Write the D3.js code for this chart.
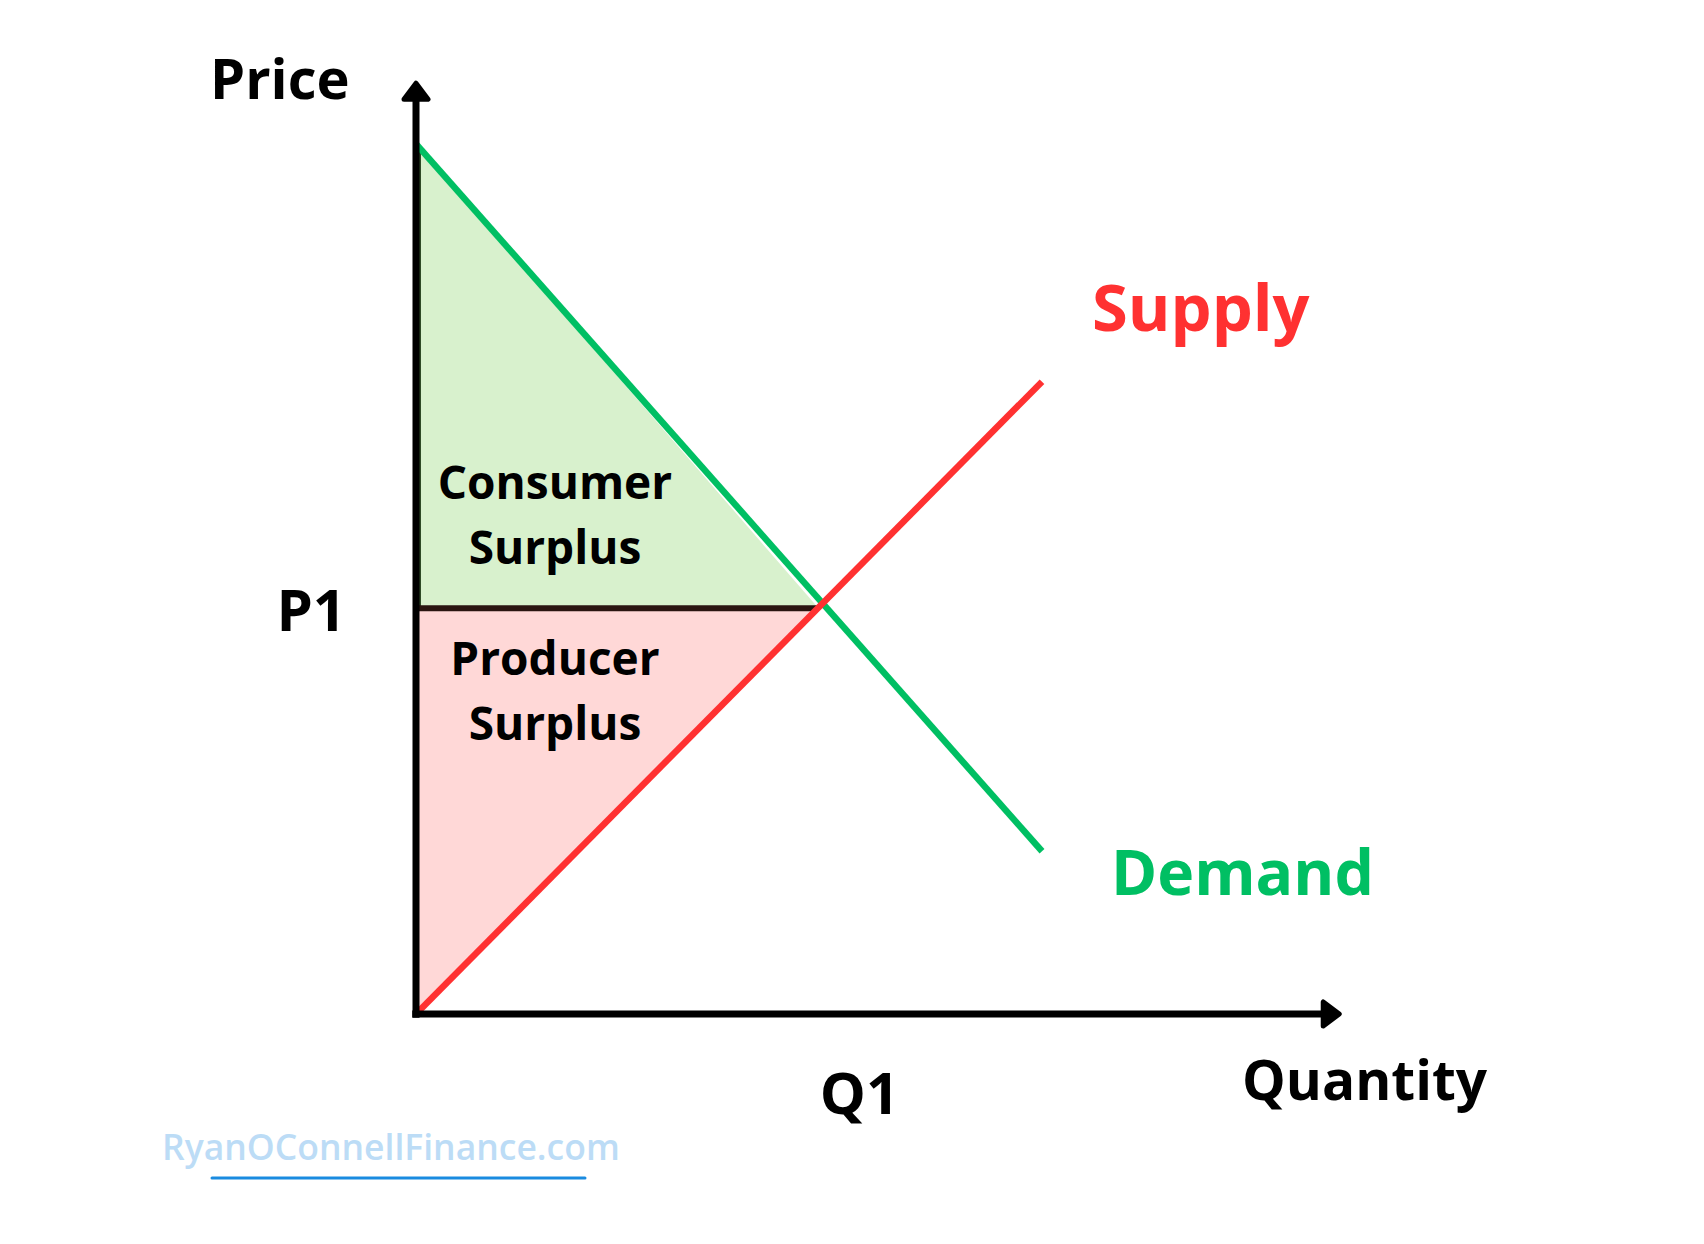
<!DOCTYPE html>
<html>
<head>
<meta charset="utf-8">
<script src="https://cdn.jsdelivr.net/npm/d3@7"></script>
<style>
    body { margin: 0; background: #fff; }
    text { font-family: "Open Sans", "Noto Sans", sans-serif; font-weight: 700; }
</style>
</head>
<body>
<div id="chart"></div>
<script>
// values (same units on both axes)
const supplyQty = [0, 10];
const supplyPrice = [0, 10.1];
const demandQty = [0, 10];
const demandPrice = [13.9, 2.6];
const equilibrium = { q: 6.43, p: 6.48 };
const axisMax = { q: 14.78, p: 14.9 };

const width = 1704,
    height = 1244;

const svg = d3.select("#chart")
    .append("svg")
    .attr("width", width)
    .attr("height", height);

const unit = 62.6;
const x = d3.scaleLinear()
    .domain([0, 1])
    .range([416, 416 + unit]);

const y = d3.scaleLinear()
    .domain([0, 1])
    .range([1014, 1014 - unit]);

const supply = supplyQty.map((q, i) => [q, supplyPrice[i]]);
const demand = demandQty.map((q, i) => [q, demandPrice[i]]);

const line = d3.line()
    .x(d => x(d[0]))
    .y(d => y(d[1]));

// Consumer surplus area
svg.append("path")
    .datum([[0, equilibrium.p], [0, demandPrice[0]], [equilibrium.q, equilibrium.p]])
    .attr("d", d => line(d) + "Z")
    .attr("fill", "#d8f1cd");

// Producer surplus area
svg.append("path")
    .datum([[0, 0], [0, equilibrium.p], [equilibrium.q, equilibrium.p]])
    .attr("d", d => line(d) + "Z")
    .attr("fill", "#ffd8d7");

// thin dark edge on the left of the consumer area
svg.append("line")
    .attr("x1", x(0) + 4)
    .attr("x2", x(0) + 4)
    .attr("y1", y(equilibrium.p))
    .attr("y2", y(demandPrice[0]) + 8)
    .attr("stroke", "#2e4a26")
    .attr("stroke-width", 2);

// P1 line
svg.append("line")
    .attr("x1", x(0))
    .attr("x2", x(equilibrium.q))
    .attr("y1", y(equilibrium.p))
    .attr("y2", y(equilibrium.p))
    .attr("stroke", "#2a1510")
    .attr("stroke-width", 6);

// Demand and supply lines
svg.append("path")
    .datum(demand)
    .attr("d", line)
    .attr("fill", "none")
    .attr("stroke", "#00bf63")
    .attr("stroke-width", 6.5);

svg.append("path")
    .datum(supply)
    .attr("d", line)
    .attr("fill", "none")
    .attr("stroke", "#ff3131")
    .attr("stroke-width", 6.5);

// Axes with arrow heads
svg.append("path")
    .attr("d", `M${x(0)},${y(-0.06)} L${x(0)},${y(axisMax.p) + 16}`)
    .attr("stroke", "#000")
    .attr("stroke-width", 7)
    .attr("fill", "none");

svg.append("path")
    .attr("d", `M${x(-0.06)},${y(0)} L${x(axisMax.q) - 16},${y(0)}`)
    .attr("stroke", "#000")
    .attr("stroke-width", 7)
    .attr("fill", "none");

svg.append("path")
    .attr("d", `M${x(0)},${y(axisMax.p) + 2} L${x(0) + 12},${y(axisMax.p) + 18} L${x(0) - 12},${y(axisMax.p) + 18}Z`)
    .attr("fill", "#000")
    .attr("stroke", "#000")
    .attr("stroke-width", 5)
    .attr("stroke-linejoin", "round");

svg.append("path")
    .attr("d", `M${x(axisMax.q) - 2},${y(0)} L${x(axisMax.q) - 18},${y(0) - 12} L${x(axisMax.q) - 18},${y(0) + 12}Z`)
    .attr("fill", "#000")
    .attr("stroke", "#000")
    .attr("stroke-width", 5)
    .attr("stroke-linejoin", "round");

// Axis labels
svg.append("text")
    .attr("x", 210)
    .attr("y", 99)
    .style("font-size", "56px")
    .attr("fill", "#000")
    .text("Price");

svg.append("text")
    .attr("x", 1242)
    .attr("y", 1100)
    .style("font-size", "55px")
    .attr("fill", "#000")
    .text("Quantity");

svg.append("text")
    .attr("x", x(0) - 70)
    .attr("y", y(equilibrium.p) + 23)
    .style("text-anchor", "end")
    .style("font-size", "58px")
    .attr("fill", "#000")
    .text("P1");

svg.append("text")
    .attr("x", x(equilibrium.q) + 41)
    .attr("y", 1114)
    .style("text-anchor", "middle")
    .style("font-size", "58px")
    .attr("fill", "#000")
    .text("Q1");

// Curve labels
svg.append("text")
    .attr("x", 1092)
    .attr("y", 331)
    .style("font-size", "65px")
    .attr("fill", "#ff3131")
    .text("Supply");

svg.append("text")
    .attr("x", 1111)
    .attr("y", 895)
    .style("font-size", "62.5px")
    .attr("fill", "#00bf63")
    .text("Demand");

// Area labels
const areaLabels = [
    { text: "Consumer", y: 499 },
    { text: "Surplus", y: 564 },
    { text: "Producer", y: 675 },
    { text: "Surplus", y: 740 }
];

svg.selectAll("text.area")
    .data(areaLabels)
    .enter()
    .append("text")
    .attr("class", "area")
    .attr("x", 555)
    .attr("y", d => d.y)
    .style("text-anchor", "middle")
    .style("font-size", "46px")
    .attr("fill", "#000")
    .text(d => d.text);

// Watermark
svg.append("text")
    .attr("x", 162)
    .attr("y", 1160)
    .style("font-size", "35.5px")
    .style("font-weight", 600)
    .attr("fill", "#bcdcf6")
    .text("RyanOConnellFinance.com");

svg.append("line")
    .attr("x1", 212)
    .attr("x2", 585)
    .attr("y1", 1178)
    .attr("y2", 1178)
    .attr("stroke", "#1a8be0")
    .attr("stroke-width", 3)
    .attr("stroke-linecap", "round");
</script>
</body>
</html>
